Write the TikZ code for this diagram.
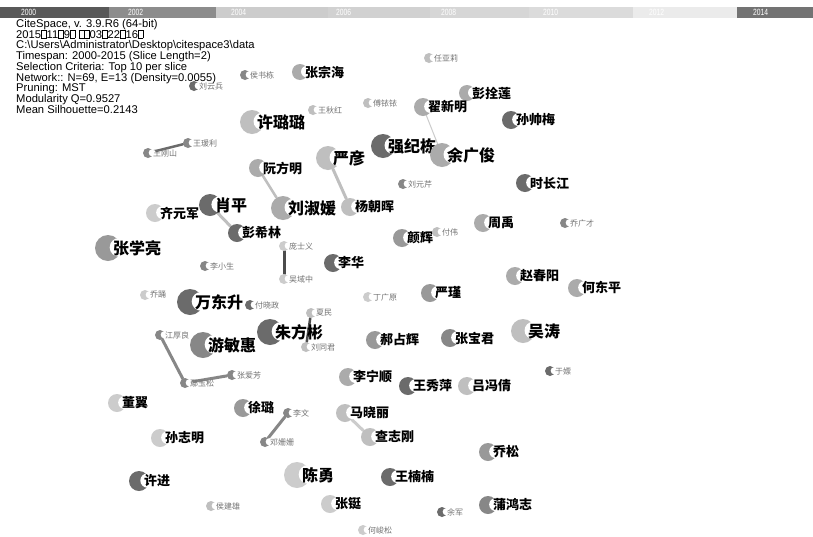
\documentclass[tikz,border=0pt]{standalone}
\usepackage{fontspec}
\setmainfont{Liberation Sans}
\newfontfamily\cjk{Noto Sans CJK SC}
\usetikzlibrary{calc,backgrounds}

\definecolor{dkn}{gray}{0.42}
\definecolor{mdk}{gray}{0.53}
\definecolor{mdn}{gray}{0.60}
\definecolor{mdl}{gray}{0.67}
\definecolor{ltn}{gray}{0.75}
\definecolor{vlt}{gray}{0.80}

% a missing glyph, as printed in the header
\newcommand{\nog}{{\setlength{\fboxsep}{0pt}\setlength{\fboxrule}{0.4pt}\fbox{\rule{0pt}{0.68em}\hspace{0.42em}}}}

% author: name, position, radius, shade, label, label style
\newcommand{\auth}[6]{%
  \node[author,fill=#4,minimum size=2*#3pt] (#1) at (#2) {};
  \fill[white] ($(#1.center)+(0.85*#3pt,0.05*#3pt)$) circle[radius=0.72*#3pt];
  \node[#6,anchor=west] (#1-lab) at ($(#1.center)+(5pt,0pt)$) {#5};
}

\begin{document}
\begin{tikzpicture}[x=1pt,y=-1pt,
  author/.style={circle,inner sep=0pt,draw=none},
  biglab/.style={font=\cjk\bfseries\fontsize{16}{16}\selectfont,inner sep=0pt},
  midlab/.style={font=\cjk\bfseries\fontsize{13}{13}\selectfont,inner sep=0pt},
  smlab/.style={font=\cjk\fontsize{8}{8}\selectfont,text=black!55,inner sep=0pt},
  year/.style={font=\fontsize{9}{9}\selectfont,text=white,anchor=west,inner sep=0pt,xscale=0.75},
  link/.style={line cap=round}]
  \useasboundingbox (0,0) rectangle (813,536);
  \begin{pgfonlayer}{background}
    \fill[white] (0,0) rectangle (813,536);
  \end{pgfonlayer}

  % time slices
  \fill[black!65] (0,7) rectangle (109,18);
  \fill[black!45] (109,7) rectangle (216,18);
  \fill[black!20] (216,7) rectangle (328,18);
  \fill[black!18] (328,7) rectangle (430,18);
  \fill[black!16] (430,7) rectangle (529,18);
  \fill[black!14] (529,7) rectangle (633,18);
  \fill[black!8] (633,7) rectangle (737,18);
  \fill[black!55] (737,7) rectangle (813,18);
  \node[year] (y2000) at (21,12.5) {2000};
  \node[year] (y2002) at (128,12.5) {2002};
  \node[year] (y2004) at (231,12.5) {2004};
  \node[year] (y2006) at (336,12.5) {2006};
  \node[year] (y2008) at (441,12.5) {2008};
  \node[year] (y2010) at (543,12.5) {2010};
  \node[year] (y2012) at (649,12.5) {2012};
  \node[year] (y2014) at (753,12.5) {2014};

  \node[anchor=north west,align=left,inner sep=0pt,
        font=\fontsize{11.2}{10.75}\selectfont] (info) at (16,19)
    {CiteSpace, v. 3.9.R6 (64-bit)\\
     2015\nog11\nog9\nog{} \nog\nog03\nog22\nog16\nog\\
     C:\textbackslash Users\textbackslash Administrator\textbackslash Desktop\textbackslash citespace3\textbackslash data\\
     Timespan: 2000-2015 (Slice Length=2)\\
     Selection Criteria: Top 10 per slice\\
     Network:: N=69, E=13 (Density=0.0055)\\
     Pruning: MST\\
     Modularity Q=0.9527\\
     Mean Silhouette=0.2143};

  % authors
  \auth{zzh}{300,72}{8}{mdl}{张宗海}{midlab}
  \auth{hsd}{245,75}{5}{mdk}{侯书栋}{smlab}
  \auth{lyb}{194,86}{5}{dkn}{刘云兵}{smlab}
  \auth{wqh}{313,110}{5}{ltn}{王秋红}{smlab}
  \auth{fyy}{368,103}{5}{ltn}{傅铱铱}{smlab}
  \auth{xll}{252,122}{12}{ltn}{许璐璐}{biglab}
  \auth{ryl}{429,58}{5}{ltn}{任亚莉}{smlab}
  \auth{psl}{467,93}{8}{mdl}{彭拴莲}{midlab}
  \auth{zxm}{423,107}{9}{mdl}{翟新明}{midlab}
  \auth{ssm}{511,120}{9}{dkn}{孙帅梅}{midlab}
  \auth{qjd}{383,146}{12}{dkn}{强纪栋}{biglab}
  \auth{ygj}{442,155}{12}{mdl}{余广俊}{biglab}
  \auth{scj}{525,183}{9}{dkn}{时长江}{midlab}
  \auth{wyl}{188,143}{5}{mdk}{王瑗利}{smlab}
  \auth{wgs}{148,153}{5}{mdk}{王刚山}{smlab}
  \auth{rfm}{258,168}{9}{mdl}{阮方明}{midlab}
  \auth{yy}{328,158}{12}{ltn}{严彦}{biglab}
  \auth{lsy}{283,208}{12}{mdl}{刘淑媛}{biglab}
  \auth{yzh}{350,207}{9}{ltn}{杨朝晖}{midlab}
  \auth{xp}{210,205}{11}{dkn}{肖平}{biglab}
  \auth{qyj}{155,213}{9}{vlt}{齐元军}{midlab}
  \auth{pxl}{237,233}{9}{dkn}{彭希林}{midlab}
  \auth{zxl}{108,248}{13}{mdn}{张学亮}{biglab}
  \auth{psy}{284,246}{5}{vlt}{庞士义}{smlab}
  \auth{wyz}{284,279}{5}{vlt}{吴域中}{smlab}
  \auth{lxs}{205,266}{5}{mdk}{李小生}{smlab}
  \auth{lh}{333,263}{9}{dkn}{李华}{midlab}
  \auth{lyq}{403,184}{5}{mdk}{刘元芹}{smlab}
  \auth{yh}{402,238}{9}{mdn}{颜辉}{midlab}
  \auth{fw}{437,232}{5}{ltn}{付伟}{smlab}
  \auth{zy}{483,223}{9}{mdl}{周禹}{midlab}
  \auth{qgc}{565,223}{5}{mdk}{乔广才}{smlab}
  \auth{zcy}{515,276}{9}{mdl}{赵春阳}{midlab}
  \auth{hdp}{577,288}{9}{mdl}{何东平}{midlab}
  \auth{dgy}{368,297}{5}{vlt}{丁广原}{smlab}
  \auth{yj}{430,293}{9}{mdn}{严瑾}{midlab}
  \auth{qy}{145,295}{5}{vlt}{乔踊}{smlab}
  \auth{wds}{190,302}{13}{dkn}{万东升}{biglab}
  \auth{fxz}{250,305}{5}{dkn}{付晓政}{smlab}
  \auth{xm}{311,313}{5}{ltn}{夏民}{smlab}
  \auth{zfb}{270,332}{13}{dkn}{朱方彬}{biglab}
  \auth{ltj}{306,347}{5}{ltn}{刘同君}{smlab}
  \auth{jhl}{160,335}{5}{mdk}{江厚良}{smlab}
  \auth{ymh}{203,345}{13}{mdk}{游敏惠}{biglab}
  \auth{yys}{185,383}{5}{mdk}{鄢玉松}{smlab}
  \auth{zaf}{232,375}{5}{mdk}{张爱芳}{smlab}
  \auth{dy}{117,403}{9}{vlt}{董翼}{midlab}
  \auth{hzh}{375,340}{9}{mdn}{郝占辉}{midlab}
  \auth{zbj}{450,338}{9}{mdk}{张宝君}{midlab}
  \auth{wt}{523,331}{12}{ltn}{吴涛}{biglab}
  \auth{yp}{550,371}{5}{dkn}{于嫖}{smlab}
  \auth{lns}{348,377}{9}{mdl}{李宁顺}{midlab}
  \auth{wxp}{408,386}{9}{dkn}{王秀萍}{midlab}
  \auth{lfq}{467,386}{9}{ltn}{吕冯倩}{midlab}
  \auth{xl}{243,408}{9}{mdn}{徐璐}{midlab}
  \auth{lw}{288,413}{5}{mdk}{李文}{smlab}
  \auth{dss}{265,442}{5}{mdk}{邓姗姗}{smlab}
  \auth{szm}{160,438}{9}{vlt}{孙志明}{midlab}
  \auth{xj}{139,481}{10}{dkn}{许进}{midlab}
  \auth{cy}{297,475}{13}{vlt}{陈勇}{biglab}
  \auth{hjx}{211,506}{5}{ltn}{侯建雄}{smlab}
  \auth{zt}{330,504}{9}{vlt}{张铤}{midlab}
  \auth{hjs}{363,530}{5}{vlt}{何峻松}{smlab}
  \auth{mxl}{345,413}{9}{ltn}{马晓丽}{midlab}
  \auth{zzg}{370,437}{9}{ltn}{查志刚}{midlab}
  \auth{qs}{488,452}{9}{mdn}{乔松}{midlab}
  \auth{wnn}{390,477}{9}{dkn}{王楠楠}{midlab}
  \auth{yjn}{442,512}{5}{dkn}{余军}{smlab}
  \auth{phz}{488,505}{9}{mdk}{蒲鸿志}{midlab}

  % co-author links
  \begin{pgfonlayer}{background}
    \draw[link,vlt,line width=1pt] (zxm) -- (ygj);
    \draw[link,dkn,line width=2.5pt] (wgs) -- (wyl);
    \draw[link,ltn,line width=2.5pt] (rfm) -- (lsy);
    \draw[link,ltn,line width=3pt] (yy) -- (yzh);
    \draw[link,ltn,line width=3pt] (xp) -- (pxl);
    \draw[link,black!70,line width=3pt] (psy) -- (wyz);
    \draw[link,black!70,line width=2.5pt] (xm) -- (ltj);
    \draw[link,mdk,line width=3pt] (jhl) -- (yys);
    \draw[link,mdk,line width=3pt] (yys) -- (zaf);
    \draw[link,mdk,line width=3pt] (lw) -- (dss);
    \draw[link,vlt,line width=3pt] (mxl) -- (zzg);
  \end{pgfonlayer}
\end{tikzpicture}
\end{document}
